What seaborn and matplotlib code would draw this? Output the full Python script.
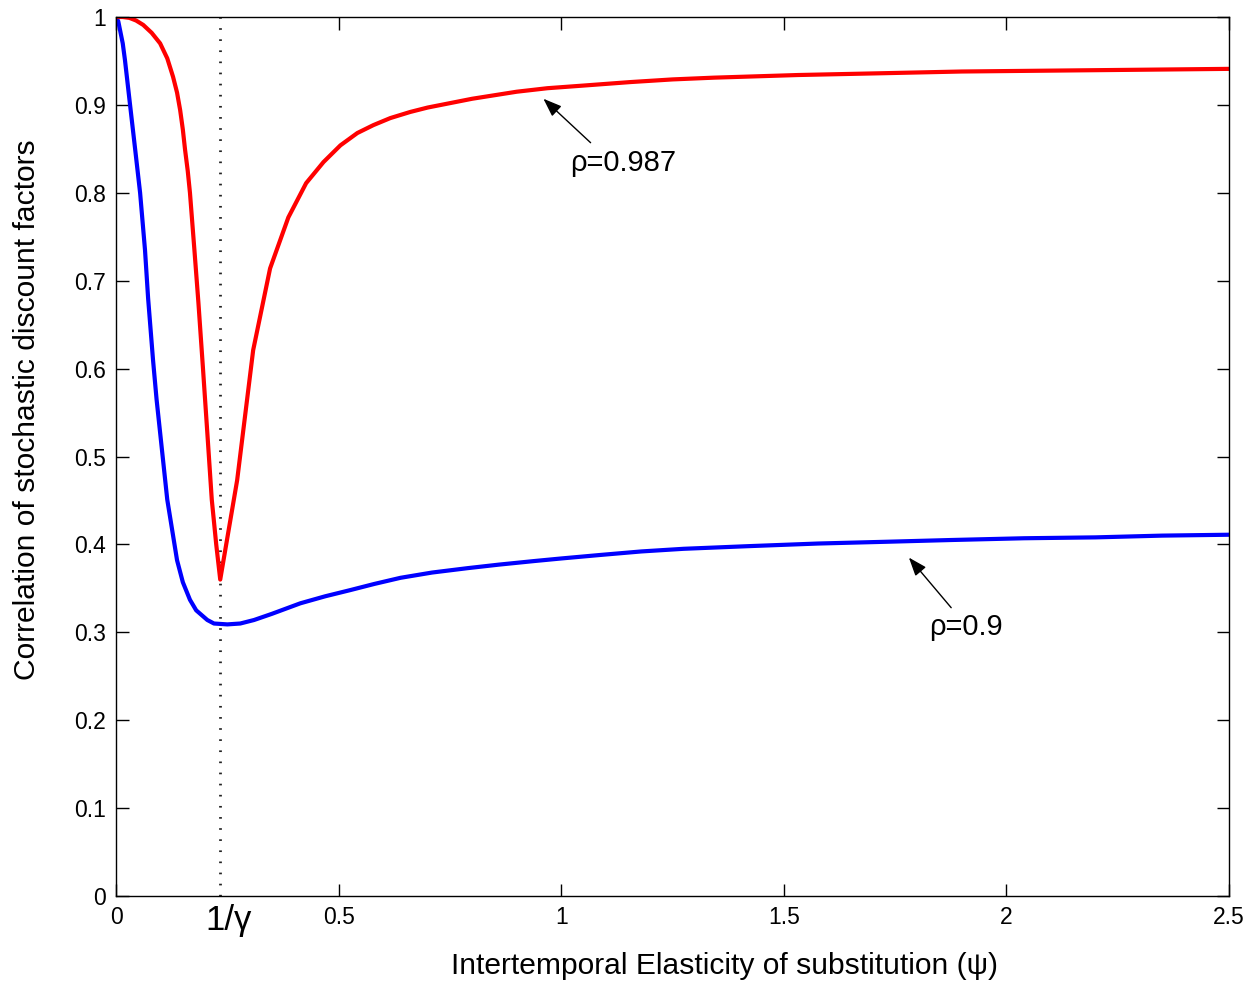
import numpy as np
import pandas as pd
import matplotlib
matplotlib.use('Agg')
import matplotlib.pyplot as plt
import seaborn as sns

# Values
inv_gamma = 0.234

psi_blue = [0.0, 0.005, 0.009, 0.015, 0.020, 0.031, 0.043, 0.054, 0.065, 0.072,
            0.083, 0.091, 0.099, 0.115, 0.137, 0.150, 0.166, 0.180, 0.205, 0.220,
            0.250, 0.279, 0.310, 0.350, 0.414, 0.470, 0.526, 0.580, 0.639, 0.710,
            0.790, 0.860, 0.938, 1.000, 1.088, 1.180, 1.275, 1.420, 1.577, 1.730,
            1.876, 2.040, 2.200, 2.350, 2.500]
corr_blue = [1.0, 0.995, 0.985, 0.970, 0.951, 0.902, 0.849, 0.800, 0.735, 0.680,
             0.610, 0.565, 0.527, 0.451, 0.382, 0.357, 0.337, 0.325, 0.314, 0.310,
             0.309, 0.310, 0.314, 0.321, 0.333, 0.341, 0.348, 0.355, 0.362, 0.368,
             0.373, 0.377, 0.381, 0.384, 0.388, 0.392, 0.395, 0.398, 0.401, 0.403,
             0.405, 0.407, 0.408, 0.410, 0.411]

psi_red = [0.0, 0.015, 0.030, 0.045, 0.061, 0.080, 0.099, 0.115, 0.128, 0.137,
           0.144, 0.150, 0.155, 0.161, 0.166, 0.176, 0.185, 0.195, 0.205, 0.215,
           0.225, 0.234, 0.272, 0.308, 0.346, 0.387, 0.427, 0.466, 0.504, 0.542,
           0.578, 0.616, 0.661, 0.700, 0.750, 0.800, 0.850, 0.900, 0.969, 1.050,
           1.156, 1.250, 1.343, 1.532, 1.718, 1.900, 2.100, 2.300, 2.500]
corr_red = [1.0, 1.0, 0.999, 0.996, 0.991, 0.982, 0.970, 0.953, 0.932, 0.914,
            0.894, 0.872, 0.849, 0.825, 0.800, 0.735, 0.675, 0.602, 0.527, 0.451,
            0.400, 0.360, 0.473, 0.621, 0.714, 0.772, 0.811, 0.835, 0.854, 0.868,
            0.877, 0.885, 0.892, 0.897, 0.902, 0.907, 0.911, 0.915, 0.919, 0.922,
            0.926, 0.929, 0.931, 0.934, 0.936, 0.938, 0.939, 0.940, 0.941]

x_ticks = [0, 0.5, 1, 1.5, 2, 2.5]
x_labels = ['0', '0.5', '1', '1.5', '2', '2.5']
y_ticks = [0, 0.1, 0.2, 0.3, 0.4, 0.5, 0.6, 0.7, 0.8, 0.9, 1]
y_labels = ['0', '0.1', '0.2', '0.3', '0.4', '0.5', '0.6', '0.7', '0.8', '0.9', '1']

sns.set_style('white')
plt.rcParams['font.family'] = ['Liberation Sans', 'DejaVu Sans']
plt.rcParams['text.color'] = 'black'
plt.rcParams['axes.labelcolor'] = 'black'

fig = plt.figure(figsize=(12.52, 9.83), dpi=100)
ax = fig.add_axes([0.0927, 0.0885, 0.8889, 0.8942])

blue_df = pd.DataFrame({'psi': psi_blue, 'corr': corr_blue})
red_df = pd.DataFrame({'psi': psi_red, 'corr': corr_red})
sns.lineplot(data=blue_df, x='psi', y='corr', color='#0000ff', lw=3, ax=ax,
             estimator=None, sort=False)
sns.lineplot(data=red_df, x='psi', y='corr', color='#ff0000', lw=3, ax=ax,
             estimator=None, sort=False)

# vertical marker at 1/gamma
ax.axvline(inv_gamma, color='#222222', lw=2, dashes=(0.6, 3.4), zorder=0)

ax.set_xlim(0, 2.5)
ax.set_ylim(0, 1)
ax.set_xticks(x_ticks)
ax.set_xticklabels(x_labels)
ax.set_yticks(y_ticks)
ax.set_yticklabels(y_labels)
ax.tick_params(direction='in', length=9, width=1, labelsize=16.5, top=True, right=True,
               bottom=True, left=True, color='black', labelcolor='black', pad=7)
for s in ax.spines.values():
    s.set_color('black')
    s.set_linewidth(1)

ax.text(0.252, -0.009, '1/γ', ha='center', va='top', fontsize=25)

ax.set_xlabel('Intertemporal Elasticity of substitution (ψ)', fontsize=21.6)
ax.set_ylabel('Correlation of stochastic discount factors', fontsize=21.6)
ax.xaxis.set_label_coords(0.547, -0.08)
ax.xaxis.label.set_va('center')
ax.yaxis.set_label_coords(-0.08, 0.553)
ax.yaxis.label.set_va('center')

arrow = dict(arrowstyle='-|>,head_length=0.75,head_width=0.28', color='black',
             lw=1, mutation_scale=15, shrinkA=0, shrinkB=0)
ax.annotate('', xy=(0.960, 0.907), xytext=(1.066, 0.857), arrowprops=arrow)
ax.text(1.02, 0.834, 'ρ=0.987', fontsize=21, va='center', ha='left')
ax.annotate('', xy=(1.781, 0.385), xytext=(1.876, 0.328), arrowprops=arrow)
ax.text(1.826, 0.306, 'ρ=0.9', fontsize=21, va='center', ha='left')

fig.savefig('out.png', dpi=100)
